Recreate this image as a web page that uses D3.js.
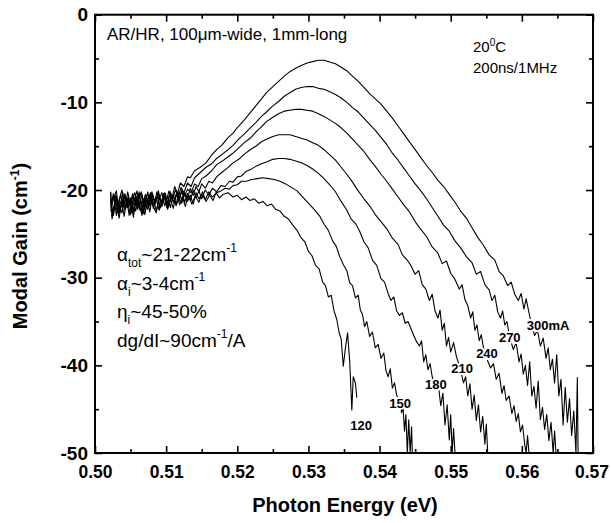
<!DOCTYPE html>
<html><head><meta charset="utf-8">
<script src="https://cdn.jsdelivr.net/npm/d3@7"></script>
<style>
body{margin:0;background:#fff}
svg{display:block}
text{font-family:"Liberation Sans",Arial,Helvetica,sans-serif;fill:#000}
</style>
</head><body>
<svg id="chart" width="611" height="523"></svg>
<script>
// ---------- data ----------
const xTickValues = [0.50, 0.51, 0.52, 0.53, 0.54, 0.55, 0.56, 0.57];
const xMinorTicks = [0.505, 0.515, 0.525, 0.535, 0.545, 0.555, 0.565];
const yTickValues = [0, -10, -20, -30, -40, -50];
const yMinorTicks = [-5, -15, -25, -35, -45];
const currents = ["120", "150", "180", "210", "240", "270", "300mA"];

const curve120 = [[0.5022,-20.3],[0.5024,-23.3],[0.5027,-22.0],[0.5031,-21.0],[0.5035,-22.5],[0.5039,-20.3],[0.5043,-22.1],[0.5047,-20.8],[0.5051,-22.6],[0.5055,-21.2],[0.5059,-20.1],[0.5063,-22.3],[0.5067,-21.4],[0.5071,-20.5],[0.5075,-22.0],[0.5079,-20.9],[0.5083,-21.8],[0.5087,-20.2],[0.5091,-22.1],[0.5095,-21.0],[0.5099,-20.4],[0.5103,-21.9],[0.5107,-20.6],[0.5111,-21.5],[0.5115,-20.3],[0.5119,-21.7],[0.5123,-20.8],[0.5127,-21.9],[0.5131,-20.5],[0.5136,-21.6],[0.5141,-20.7],[0.5146,-21.4],[0.5151,-20.2],[0.5156,-21.3],[0.5161,-20.6],[0.5166,-21.2],[0.517,-20.3],[0.5175,-20.9],[0.518,-20.5],[0.5187,-20.3],[0.5194,-20.8],[0.52,-20.6],[0.5206,-21.1],[0.5212,-20.8],[0.5218,-21.2],[0.5224,-21.0],[0.523,-21.5],[0.5236,-21.3],[0.5242,-21.8],[0.5248,-21.6],[0.5254,-22.2],[0.526,-22.4],[0.5266,-23.0],[0.5272,-23.3],[0.5278,-24.0],[0.5284,-24.6],[0.529,-25.5],[0.5295,-25.9],[0.53,-27.0],[0.5305,-27.5],[0.531,-28.6],[0.5315,-29.0],[0.532,-30.5],[0.5324,-30.9],[0.5328,-32.2],[0.5332,-32.0],[0.5336,-33.8],[0.534,-34.8],[0.5343,-36.2],[0.5346,-37.0],[0.5349,-40.1],[0.5352,-38.0],[0.5355,-36.3],[0.5358,-39.5],[0.5361,-45.1],[0.5363,-41.3],[0.5366,-42.0],[0.5368,-43.7]];

const curve150 = [[0.5022,-22.0],[0.5026,-20.6],[0.503,-21.5],[0.5034,-23.2],[0.5038,-21.0],[0.5042,-22.2],[0.5046,-20.2],[0.505,-21.8],[0.5054,-22.5],[0.5058,-20.7],[0.5062,-21.6],[0.5066,-22.9],[0.507,-21.1],[0.5074,-22.2],[0.5078,-20.6],[0.5082,-21.9],[0.5086,-22.6],[0.509,-20.8],[0.5094,-21.7],[0.5098,-20.3],[0.5102,-22.2],[0.5106,-21.2],[0.511,-20.6],[0.5114,-21.8],[0.5118,-20.9],[0.5122,-21.5],[0.5126,-20.4],[0.513,-21.3],[0.5134,-20.6],[0.5138,-21.6],[0.5142,-20.3],[0.5146,-21.0],[0.515,-20.5],[0.5155,-21.1],[0.516,-20.2],[0.5165,-20.8],[0.5171,-20.3],[0.5177,-20.1],[0.5183,-19.8],[0.5189,-19.9],[0.5194,-19.5],[0.52,-19.4],[0.5206,-19.0],[0.5213,-19.0],[0.522,-18.8],[0.5228,-18.7],[0.5236,-18.6],[0.5244,-18.7],[0.5252,-18.8],[0.526,-19.0],[0.5268,-19.3],[0.5276,-19.7],[0.5284,-20.1],[0.5292,-20.8],[0.53,-21.5],[0.5308,-22.2],[0.5316,-23.0],[0.5322,-23.9],[0.5328,-24.6],[0.5334,-25.8],[0.5339,-26.4],[0.5344,-27.6],[0.5349,-28.5],[0.5354,-29.2],[0.5358,-30.6],[0.5362,-30.9],[0.5366,-32.3],[0.537,-32.0],[0.5373,-33.7],[0.5376,-34.2],[0.5379,-35.6],[0.5382,-35.0],[0.5386,-36.7],[0.539,-36.2],[0.5394,-38.0],[0.5398,-37.6],[0.5402,-39.2],[0.5406,-38.6],[0.5409,-40.6],[0.5412,-41.3],[0.5415,-40.4],[0.5418,-42.6],[0.5421,-42.0],[0.5424,-43.4],[0.5428,-44.0],[0.5431,-45.4],[0.5433,-44.8],[0.5435,-47.5],[0.5437,-45.6],[0.5439,-50],[0.5441,-46.2],[0.5443,-50],[0.5445,-47.0],[0.5446,-50]];

const curve180 = [[0.5022,-21.3],[0.5026,-22.9],[0.503,-20.7],[0.5034,-21.8],[0.5038,-22.6],[0.5042,-20.4],[0.5046,-21.9],[0.505,-20.9],[0.5054,-22.2],[0.5058,-21.4],[0.5062,-20.6],[0.5066,-21.6],[0.507,-22.8],[0.5074,-21.2],[0.5078,-20.4],[0.5082,-21.7],[0.5086,-20.8],[0.509,-22.3],[0.5094,-21.5],[0.5098,-20.6],[0.5102,-21.9],[0.5106,-21.0],[0.511,-22.1],[0.5114,-20.5],[0.5118,-21.3],[0.5122,-20.1],[0.5126,-21.4],[0.513,-20.4],[0.5134,-21.2],[0.5138,-20.0],[0.5142,-20.9],[0.5146,-20.1],[0.515,-21.0],[0.5155,-20.0],[0.516,-20.6],[0.5165,-19.8],[0.5171,-20.2],[0.5177,-19.5],[0.5183,-19.6],[0.5189,-19.0],[0.5194,-19.1],[0.52,-18.5],[0.5206,-18.4],[0.5212,-17.9],[0.5218,-17.7],[0.5226,-17.3],[0.5234,-17.0],[0.5241,-16.8],[0.525,-16.5],[0.5258,-16.4],[0.5266,-16.4],[0.5274,-16.5],[0.5282,-16.7],[0.529,-16.9],[0.5298,-17.2],[0.5306,-17.6],[0.5314,-18.1],[0.5322,-18.7],[0.533,-19.4],[0.5338,-20.2],[0.5346,-21.3],[0.5354,-22.3],[0.536,-23.3],[0.5366,-23.8],[0.5372,-24.7],[0.5378,-25.9],[0.5384,-26.6],[0.539,-28.0],[0.5396,-28.6],[0.5402,-30.1],[0.5407,-30.5],[0.5412,-31.8],[0.5416,-32.6],[0.542,-32.2],[0.5424,-33.8],[0.5428,-34.3],[0.5432,-34.0],[0.5436,-35.2],[0.544,-35.0],[0.5444,-35.8],[0.5448,-36.6],[0.5452,-37.3],[0.5456,-37.8],[0.5459,-37.2],[0.5462,-39.6],[0.5465,-38.8],[0.5468,-40.5],[0.5471,-39.8],[0.5474,-41.3],[0.5478,-42.5],[0.5482,-41.8],[0.5486,-44.6],[0.5489,-43.2],[0.5492,-46.8],[0.5495,-44.5],[0.5498,-48.5],[0.55,-45.6],[0.5502,-50],[0.5504,-47.2],[0.5506,-50]];

const curve210 = [[0.5022,-22.4],[0.5026,-21.0],[0.503,-20.1],[0.5034,-22.7],[0.5038,-21.5],[0.5042,-20.6],[0.5046,-22.0],[0.505,-21.2],[0.5054,-23.1],[0.5058,-20.8],[0.5062,-21.9],[0.5066,-20.5],[0.507,-22.3],[0.5074,-20.2],[0.5078,-21.7],[0.5082,-20.9],[0.5086,-22.4],[0.509,-21.1],[0.5094,-20.3],[0.5098,-21.8],[0.5102,-20.7],[0.5106,-22.0],[0.511,-20.5],[0.5114,-21.6],[0.5118,-20.2],[0.5122,-21.1],[0.5126,-20.3],[0.513,-21.0],[0.5134,-19.8],[0.5138,-20.6],[0.5142,-19.6],[0.5146,-20.2],[0.515,-19.3],[0.5155,-19.8],[0.516,-19.0],[0.5165,-19.2],[0.5171,-18.5],[0.5178,-18.0],[0.5186,-17.5],[0.5194,-16.9],[0.5202,-16.5],[0.521,-15.9],[0.5218,-15.4],[0.5226,-15.0],[0.5234,-14.5],[0.5241,-14.2],[0.525,-13.9],[0.5258,-13.7],[0.5266,-13.7],[0.5274,-13.7],[0.5282,-13.9],[0.529,-14.1],[0.5298,-14.3],[0.5306,-14.6],[0.5314,-14.9],[0.5322,-15.4],[0.533,-16.0],[0.5338,-16.6],[0.5346,-17.4],[0.5354,-18.2],[0.5362,-19.1],[0.537,-20.1],[0.5378,-21.0],[0.5386,-21.8],[0.5394,-22.8],[0.5402,-23.6],[0.541,-24.4],[0.5418,-25.5],[0.5426,-26.2],[0.5432,-27.4],[0.5438,-27.9],[0.5444,-28.6],[0.545,-29.6],[0.5455,-29.2],[0.546,-30.8],[0.5465,-31.3],[0.547,-32.6],[0.5474,-31.9],[0.5478,-33.8],[0.5482,-34.6],[0.5485,-33.7],[0.5488,-36.0],[0.5491,-35.2],[0.5494,-37.8],[0.5497,-36.8],[0.55,-38.5],[0.5504,-37.4],[0.5508,-39.0],[0.5513,-40.2],[0.5518,-42.0],[0.5521,-41.3],[0.5524,-43.5],[0.5527,-42.1],[0.553,-45.0],[0.5533,-43.4],[0.5536,-46.3],[0.5539,-44.5],[0.5542,-47.6],[0.5545,-45.8],[0.5548,-49.0],[0.555,-46.7],[0.5552,-50]];

const curve240 = [[0.5022,-21.7],[0.5026,-20.4],[0.503,-22.9],[0.5034,-21.1],[0.5038,-20.0],[0.5042,-22.3],[0.5046,-21.5],[0.505,-22.8],[0.5054,-20.7],[0.5058,-21.8],[0.5062,-20.2],[0.5066,-22.6],[0.507,-20.9],[0.5074,-21.6],[0.5078,-20.3],[0.5082,-22.1],[0.5086,-21.0],[0.509,-20.5],[0.5094,-21.9],[0.5098,-20.8],[0.5102,-21.5],[0.5106,-20.2],[0.511,-21.4],[0.5114,-20.6],[0.5118,-21.0],[0.5122,-20.0],[0.5126,-20.7],[0.513,-19.9],[0.5135,-20.3],[0.514,-19.3],[0.5145,-19.6],[0.515,-18.7],[0.5156,-18.4],[0.5164,-17.8],[0.5171,-17.1],[0.5179,-16.7],[0.5187,-16.2],[0.5194,-15.8],[0.5202,-15.2],[0.521,-14.6],[0.5218,-14.1],[0.5226,-13.4],[0.5234,-12.8],[0.5241,-12.2],[0.525,-11.7],[0.5258,-11.3],[0.5266,-11.0],[0.5274,-10.9],[0.5282,-10.8],[0.529,-10.8],[0.5298,-10.9],[0.5306,-11.0],[0.5314,-11.3],[0.5322,-11.6],[0.533,-12.0],[0.5338,-12.4],[0.5346,-12.9],[0.5354,-13.5],[0.5362,-14.2],[0.537,-14.9],[0.5378,-15.6],[0.5386,-16.5],[0.5394,-17.3],[0.5402,-18.2],[0.541,-19.0],[0.5418,-19.9],[0.5426,-20.8],[0.5434,-21.7],[0.5442,-22.5],[0.545,-23.6],[0.5458,-24.5],[0.5466,-25.3],[0.5474,-26.5],[0.5482,-27.2],[0.5488,-28.4],[0.5494,-28.1],[0.55,-29.5],[0.5506,-30.2],[0.5512,-31.3],[0.5516,-30.8],[0.552,-32.5],[0.5524,-33.2],[0.5528,-34.6],[0.5531,-33.9],[0.5534,-36.0],[0.5537,-35.4],[0.554,-37.2],[0.5543,-36.5],[0.5546,-38.0],[0.5549,-38.6],[0.5552,-39.5],[0.5556,-40.3],[0.556,-39.8],[0.5564,-41.6],[0.5568,-40.9],[0.5572,-43.2],[0.5575,-42.3],[0.5578,-44.0],[0.5582,-43.5],[0.5586,-45.5],[0.5589,-44.6],[0.5592,-46.4],[0.5595,-45.5],[0.5598,-47.6],[0.5601,-46.8],[0.5604,-49.0],[0.5606,-50],[0.5608,-48.0],[0.561,-50]];

const curve270 = [[0.5022,-21.0],[0.5025,-22.8],[0.5029,-20.6],[0.5033,-22.1],[0.5037,-21.2],[0.5041,-23.0],[0.5045,-20.9],[0.5049,-21.7],[0.5053,-20.4],[0.5057,-22.4],[0.5061,-21.3],[0.5065,-20.2],[0.5069,-21.9],[0.5073,-21.0],[0.5077,-22.5],[0.5081,-20.5],[0.5085,-21.6],[0.5089,-20.1],[0.5093,-21.4],[0.5097,-20.6],[0.5101,-22.0],[0.5105,-20.3],[0.5109,-21.1],[0.5113,-20.0],[0.5117,-20.8],[0.5121,-19.7],[0.5125,-20.3],[0.513,-19.2],[0.5135,-19.6],[0.514,-18.6],[0.5148,-18.0],[0.5156,-17.4],[0.5164,-17.0],[0.5171,-16.4],[0.5179,-15.9],[0.5187,-15.4],[0.5194,-14.9],[0.5202,-14.2],[0.521,-13.6],[0.5218,-12.95],[0.5226,-12.3],[0.5234,-11.6],[0.5241,-11.1],[0.525,-10.4],[0.5258,-9.9],[0.5266,-9.3],[0.5274,-8.9],[0.5282,-8.5],[0.529,-8.3],[0.5298,-8.2],[0.5306,-8.2],[0.5314,-8.4],[0.5322,-8.5],[0.533,-8.8],[0.5338,-9.1],[0.5346,-9.5],[0.5354,-10.0],[0.5362,-10.6],[0.537,-11.1],[0.5378,-11.8],[0.5386,-12.5],[0.5394,-13.2],[0.5402,-14.0],[0.541,-14.8],[0.5418,-15.8],[0.5426,-16.6],[0.5434,-17.5],[0.5442,-18.4],[0.545,-19.3],[0.5458,-20.1],[0.5466,-21.0],[0.5474,-22.0],[0.5482,-23.0],[0.549,-24.0],[0.5498,-24.7],[0.5506,-25.8],[0.5514,-26.6],[0.5522,-27.6],[0.553,-28.3],[0.5536,-29.6],[0.5542,-29.3],[0.5548,-30.8],[0.5554,-31.4],[0.5558,-32.6],[0.5562,-32.0],[0.5566,-33.9],[0.557,-34.6],[0.5573,-33.8],[0.5576,-35.4],[0.5579,-35.0],[0.5583,-36.8],[0.5588,-38.2],[0.5592,-37.4],[0.5596,-39.6],[0.5599,-38.7],[0.5602,-41.0],[0.5605,-40.0],[0.5608,-42.3],[0.5611,-39.6],[0.5614,-43.5],[0.5617,-42.4],[0.562,-44.9],[0.5623,-41.8],[0.5626,-46.2],[0.5629,-44.8],[0.5632,-47.3],[0.5635,-45.6],[0.5638,-48.6],[0.5641,-46.5],[0.5644,-50],[0.5646,-47.5],[0.5648,-50]];

const curve300 = [[0.5022,-20.2],[0.5024,-23.0],[0.5028,-21.4],[0.5032,-22.6],[0.5036,-20.5],[0.504,-21.9],[0.5044,-20.8],[0.5048,-22.9],[0.5052,-21.1],[0.5056,-20.3],[0.506,-22.2],[0.5064,-21.0],[0.5068,-22.7],[0.5072,-20.6],[0.5076,-21.8],[0.508,-20.2],[0.5084,-21.5],[0.5088,-20.7],[0.5092,-22.0],[0.5096,-20.4],[0.51,-21.3],[0.5104,-20.1],[0.5108,-21.0],[0.5112,-19.6],[0.5116,-20.4],[0.512,-19.2],[0.5125,-19.6],[0.513,-18.5],[0.5134,-18.6],[0.514,-17.8],[0.5148,-17.4],[0.5156,-16.9],[0.5164,-16.0],[0.5171,-15.4],[0.5178,-14.9],[0.5186,-14.1],[0.5194,-13.5],[0.5202,-12.7],[0.521,-12.0],[0.5218,-11.2],[0.5226,-10.4],[0.5234,-9.6],[0.5241,-8.9],[0.525,-8.2],[0.5258,-7.6],[0.5266,-7.0],[0.5274,-6.5],[0.5282,-6.1],[0.529,-5.8],[0.5298,-5.5],[0.5306,-5.35],[0.5314,-5.2],[0.5322,-5.2],[0.533,-5.4],[0.5338,-5.6],[0.5346,-6.0],[0.5354,-6.4],[0.5362,-7.0],[0.537,-7.6],[0.5378,-8.3],[0.5386,-9.0],[0.5394,-9.6],[0.5402,-10.2],[0.541,-11.0],[0.5418,-11.8],[0.5426,-12.7],[0.5434,-13.6],[0.5442,-14.5],[0.545,-15.4],[0.5458,-16.3],[0.5466,-17.2],[0.5474,-18.0],[0.5482,-18.9],[0.549,-19.6],[0.5498,-20.5],[0.5506,-21.4],[0.5514,-22.4],[0.5522,-23.2],[0.553,-24.3],[0.5538,-25.4],[0.5546,-26.3],[0.5554,-27.4],[0.5562,-28.0],[0.5568,-29.3],[0.5574,-29.8],[0.558,-30.9],[0.5585,-30.5],[0.559,-31.9],[0.5595,-32.6],[0.5599,-31.8],[0.5603,-33.6],[0.5606,-32.4],[0.561,-34.0],[0.5614,-35.5],[0.5618,-36.6],[0.5622,-36.0],[0.5626,-37.8],[0.563,-36.9],[0.5634,-39.2],[0.5637,-38.0],[0.564,-40.5],[0.5643,-39.3],[0.5646,-42.0],[0.5649,-38.8],[0.5652,-43.5],[0.5655,-41.6],[0.5658,-46.8],[0.5661,-42.5],[0.5664,-46.5],[0.5667,-43.8],[0.567,-48.0],[0.5673,-45.2],[0.5676,-50],[0.5678,-41.4],[0.5679,-50]];

const curveSeries = [curve120, curve150, curve180, curve210, curve240, curve270, curve300];
// label anchor positions (energy, gain) of the current labels
const labelEnergy = [0.5374, 0.5429, 0.5479, 0.5516, 0.5551, 0.5583, 0.5637];
const labelGain = [-46.9, -44.4, -42.2, -40.4, -38.7, -36.8, -35.4];

// ---------- drawing ----------
const svg = d3.select("#chart");
const x = d3.scaleLinear().domain([0.50, 0.57]).range([95, 593]);
const y = d3.scaleLinear().domain([-50, 0]).range([453, 14.7]);

svg.append("defs").append("clipPath").attr("id", "plotclip")
  .append("rect").attr("x", 95).attr("y", 14.7).attr("width", 498).attr("height", 438.3);

const line = d3.line().x(d => x(d[0])).y(d => y(d[1]));
svg.append("g").attr("clip-path", "url(#plotclip)")
  .selectAll("path").data(curveSeries).join("path")
  .attr("d", line).attr("fill", "none").attr("stroke", "#000")
  .attr("stroke-width", 1.1).attr("stroke-linejoin", "round");

// axes (ticks inward on all sides)
function styleAxis(g) {
  g.select(".domain").remove();
  g.selectAll(".tick line").attr("stroke", "#000").attr("stroke-width", 1.6);
}
const fmtX = d => d.toFixed(2);
const fmtY = d => String(d);

const gxB = svg.append("g").attr("transform", `translate(0,${y(-50)})`)
  .call(d3.axisBottom(x).tickValues(xTickValues).tickSize(-7).tickPadding(12).tickFormat(fmtX));
styleAxis(gxB);
gxB.selectAll("text").attr("font-size", 18).attr("font-weight", "bold")
  .attr("textLength", 34).attr("lengthAdjust", "spacingAndGlyphs")
  .attr("dx", (d, i, n) => i === n.length - 1 ? -1.5 : 0);
const gxBm = svg.append("g").attr("transform", `translate(0,${y(-50)})`)
  .call(d3.axisBottom(x).tickValues(xMinorTicks).tickSize(-4).tickFormat(""));
styleAxis(gxBm);
const gxT = svg.append("g").attr("transform", `translate(0,${y(0)})`)
  .call(d3.axisTop(x).tickValues(xTickValues).tickSize(-7).tickFormat(""));
styleAxis(gxT);
const gxTm = svg.append("g").attr("transform", `translate(0,${y(0)})`)
  .call(d3.axisTop(x).tickValues(xMinorTicks).tickSize(-4).tickFormat(""));
styleAxis(gxTm);

const gyL = svg.append("g").attr("transform", `translate(${x(0.50)},0)`)
  .call(d3.axisLeft(y).tickValues(yTickValues).tickSize(-7).tickPadding(7).tickFormat(fmtY));
styleAxis(gyL);
gyL.selectAll("text").attr("font-size", 19).attr("font-weight", "bold");
const gyLm = svg.append("g").attr("transform", `translate(${x(0.50)},0)`)
  .call(d3.axisLeft(y).tickValues(yMinorTicks).tickSize(-4).tickFormat(""));
styleAxis(gyLm);
const gyR = svg.append("g").attr("transform", `translate(${x(0.57)},0)`)
  .call(d3.axisRight(y).tickValues(yTickValues).tickSize(-7).tickFormat(""));
styleAxis(gyR);
const gyRm = svg.append("g").attr("transform", `translate(${x(0.57)},0)`)
  .call(d3.axisRight(y).tickValues(yMinorTicks).tickSize(-4).tickFormat(""));
styleAxis(gyRm);

svg.append("rect").attr("x", x(0.50)).attr("y", y(0))
  .attr("width", x(0.57) - x(0.50)).attr("height", y(-50) - y(0))
  .attr("fill", "none").attr("stroke", "#000").attr("stroke-width", 2);

// current labels
svg.append("g").selectAll("text").data(currents).join("text")
  .attr("x", (d, i) => x(labelEnergy[i])).attr("y", (d, i) => y(labelGain[i]))
  .attr("dy", "0.35em").attr("text-anchor", "middle")
  .attr("font-size", 13).attr("font-weight", "bold")
  .attr("stroke", "#fff").attr("stroke-width", 4).attr("paint-order", "stroke")
  .attr("stroke-linejoin", "round")
  .text(d => d);

// axis titles
svg.append("text").attr("x", 345).attr("y", 512).attr("text-anchor", "middle")
  .attr("font-size", 20).attr("font-weight", "bold").text("Photon Energy (eV)");

const yt = svg.append("text").attr("transform", "translate(27,246) rotate(-90)")
  .attr("text-anchor", "middle").attr("font-size", 20).attr("font-weight", "bold");
yt.append("tspan").text("Modal Gain (cm");
yt.append("tspan").attr("dy", -8).attr("font-size", 12).text("-1");
yt.append("tspan").attr("dy", 8).text(")");

// annotations
svg.append("text").attr("x", 107).attr("y", 40).attr("font-size", 17)
  .text("AR/HR, 100\u03bcm-wide, 1mm-long");

const t20 = svg.append("text").attr("x", 473).attr("y", 52).attr("font-size", 15);
t20.append("tspan").text("20");
t20.append("tspan").attr("dy", -6).attr("font-size", 10).text("0");
t20.append("tspan").attr("dy", 6).text("C");
svg.append("text").attr("x", 473).attr("y", 73).attr("font-size", 15).text("200ns/1MHz");

function annot(yy, parts) {
  const t = svg.append("text").attr("x", 117).attr("y", yy).attr("font-size", 19);
  parts.forEach(p => {
    const s = t.append("tspan").text(p[0]);
    if (p[1] === "sub") s.attr("dy", 6).attr("font-size", 12);
    if (p[1] === "sup") s.attr("dy", -9).attr("font-size", 12);
    if (p[1] === "back2") s.attr("dy", 9);
    if (p[1] === "back3") s.attr("dy", -6);
  });
}
annot(261, [["\u03b1"], ["tot", "sub"], ["~21-22cm", "back3"], ["-1", "sup"]]);
annot(290, [["\u03b1"], ["i", "sub"], ["~3-4cm", "back3"], ["-1", "sup"]]);
annot(318, [["\u03b7"], ["i", "sub"], ["~45-50%", "back3"]]);
annot(347, [["dg/dI~90cm"], ["-1", "sup"], ["/A", "back2"]]);
</script>
</body></html>
